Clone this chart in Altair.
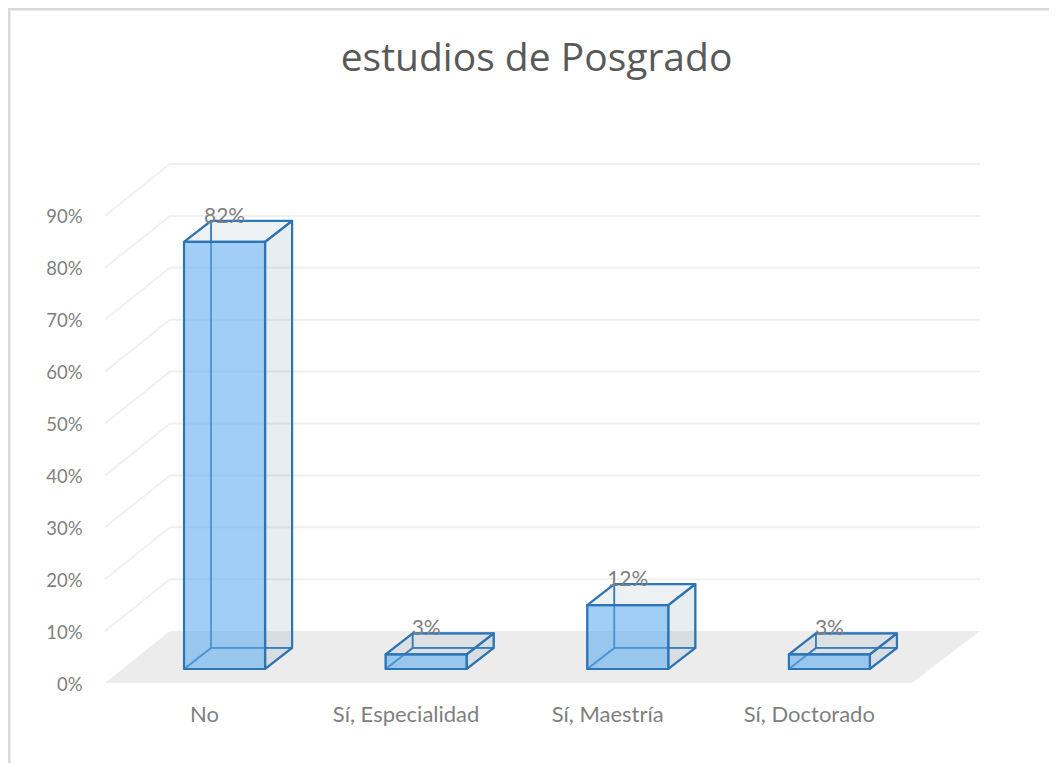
import altair as alt
import pandas as pd

categories = ["No", "Sí, Especialidad", "Sí, Maestría", "Sí, Doctorado"]
values = [0.823, 0.028, 0.123, 0.028]
tick_values = [0.0, 0.1, 0.2, 0.3, 0.4, 0.5, 0.6, 0.7, 0.8, 0.9]
grid_values = [0.1, 0.2, 0.3, 0.4, 0.5, 0.6, 0.7, 0.8, 0.9]
title_text = "estudios de Posgrado"

# scale domains (x in category slots, y as a share)
X_MAX = 4.34
Y_MAX = 1.0
WALL_DX, WALL_DY = 0.322, 0.10      # depth of the floor
FLOOR_W = 4.003
BAR_X0, BAR_W = 0.392, 0.402
BAR_DX, BAR_DY = 0.134, 0.0405      # depth of a box
BAR_BASE = 0.027
LABEL_X0 = 0.491

FONT = "Lato"
GREY = "#7f7f7f"
BLUE = "#2e75b6"

x_scale = alt.Scale(domain=[0, X_MAX], nice=False, zero=False)
y_scale = alt.Scale(domain=[0, Y_MAX], nice=False, zero=False)

label_positions = [LABEL_X0 + i for i in range(len(categories))]
label_expr = "[" + ",".join(f"'{c}'" for c in categories) + "][floor(datum.value)]"
x_axis = alt.Axis(values=label_positions, labelExpr=label_expr, grid=False, domain=False, ticks=False,
                  labelFont=FONT, labelFontSize=22, labelColor=GREY, labelPadding=21, labelAngle=0,
                  labelFlush=False, labelOverlap=False, title=None)
y_axis = alt.Axis(values=tick_values, format=".0%", grid=False, domain=False, ticks=False,
                  labelFont=FONT, labelFontSize=18.5, labelColor=GREY, labelPadding=23, labelOffset=1,
                  labelOverlap=False, title=None)


def X(field="x"):
    return alt.X(f"{field}:Q", scale=x_scale, axis=x_axis)


def Y(field="y"):
    return alt.Y(f"{field}:Q", scale=y_scale, axis=y_axis)


# ---- tables built from the arrays
grid_rows = []
for v in grid_values:
    grid_rows += [
        {"v": v, "o": 0, "x": 0, "y": v},
        {"v": v, "o": 1, "x": WALL_DX, "y": v + WALL_DY},
        {"v": v, "o": 2, "x": X_MAX, "y": v + WALL_DY},
    ]
grid = pd.DataFrame(grid_rows)

floor = pd.DataFrame({
    "y": [0, WALL_DY],
    "x": [0, WALL_DX],
    "x2": [FLOOR_W, X_MAX],
})

vert_back, vert_front, horiz_back, horiz_front, rect_back, rect_front = [], [], [], [], [], []
labels = []
for i, (c, v) in enumerate(zip(categories, values)):
    x0 = BAR_X0 + i
    x1 = x0 + BAR_W
    b = BAR_BASE
    t = BAR_BASE + v
    rect_front.append({"c": c, "x": x0, "x2": x1, "y": b, "y2": t})
    rect_back.append({"c": c, "x": x0 + BAR_DX, "x2": x1 + BAR_DX, "y": b + BAR_DY, "y2": t + BAR_DY})
    # left (hidden) and right faces
    vert_back += [
        {"c": c, "x": x0, "y": b, "y2": t},
        {"c": c, "x": x0 + BAR_DX, "y": b + BAR_DY, "y2": t + BAR_DY},
    ]
    vert_front += [
        {"c": c, "x": x1, "y": b, "y2": t},
        {"c": c, "x": x1 + BAR_DX, "y": b + BAR_DY, "y2": t + BAR_DY},
    ]
    # bottom (hidden) and top faces
    horiz_back += [
        {"c": c, "y": b, "x": x0, "x2": x1},
        {"c": c, "y": b + BAR_DY, "x": x0 + BAR_DX, "x2": x1 + BAR_DX},
    ]
    horiz_front += [
        {"c": c, "y": t, "x": x0, "x2": x1},
        {"c": c, "y": t + BAR_DY, "x": x0 + BAR_DX, "x2": x1 + BAR_DX},
    ]
    labels.append({"c": c, "x": x0 + BAR_W / 2, "y": t + BAR_DY, "value": v})

frame_color = "#d9d9d9"
frame_top = alt.Chart(pd.DataFrame({"a": [0]})).mark_rule(color=frame_color, strokeWidth=3).encode(
    x=alt.value(-97), x2=alt.value(960), y=alt.value(-155))
frame_left = alt.Chart(pd.DataFrame({"a": [0]})).mark_rule(color=frame_color, strokeWidth=3).encode(
    x=alt.value(-96), y=alt.value(-156), y2=alt.value(610))

gridlines = alt.Chart(grid).mark_line(color="#f0f0f0", strokeWidth=2).encode(
    x=X(), y=Y(), detail="v:N", order="o:Q")
floor_area = alt.Chart(floor).mark_area(orient="horizontal", color="#ececec").encode(
    x=X(), x2="x2:Q", y=Y())

side_fill = "#4d7296"
face_kw = dict(fill=side_fill, fillOpacity=0.10, stroke=BLUE, strokeOpacity=0.75, strokeWidth=1.7,
               strokeJoin="round")

back_rect = alt.Chart(pd.DataFrame(rect_back)).mark_rect(**face_kw).encode(
    x=X(), x2="x2:Q", y=Y(), y2="y2:Q")
left_face = alt.Chart(pd.DataFrame(vert_back)).mark_area(orient="vertical", **face_kw).encode(
    x=X(), y=Y(), y2="y2:Q", detail="c:N")
bottom_face = alt.Chart(pd.DataFrame(horiz_back)).mark_area(orient="horizontal", **face_kw).encode(
    x=X(), x2="x2:Q", y=Y(), detail="c:N")

front_kw = dict(stroke=BLUE, strokeWidth=2.2, strokeJoin="round")
right_face = alt.Chart(pd.DataFrame(vert_front)).mark_area(
    orient="vertical", fill=side_fill, fillOpacity=0.03, **front_kw).encode(
    x=X(), y=Y(), y2="y2:Q", detail="c:N")
top_face = alt.Chart(pd.DataFrame(horiz_front)).mark_area(
    orient="horizontal", fill=side_fill, fillOpacity=0.0, **front_kw).encode(
    x=X(), x2="x2:Q", y=Y(), detail="c:N")
front_rect = alt.Chart(pd.DataFrame(rect_front)).mark_rect(
    fill="#5aaef5", fillOpacity=0.52, **front_kw).encode(
    x=X(), x2="x2:Q", y=Y(), y2="y2:Q")

value_text = alt.Chart(pd.DataFrame(labels)).mark_text(
    font=FONT, fontSize=21, color=GREY, baseline="middle", align="center", dy=-4).encode(
    x=X(), y=Y(), text=alt.Text("value:Q", format=".0%"))

chart = alt.layer(
    frame_top, frame_left, gridlines, floor_area,
    back_rect, left_face, bottom_face, right_face, top_face, front_rect, value_text,
).properties(
    width=875,
    height=519,
    padding={"left": 97, "top": 156, "right": 69, "bottom": 80},
    autosize=alt.AutoSizeParams(type="none"),
    background="#ffffff",
    title=alt.TitleParams(
        title_text, font="Open Sans", fontSize=39, fontWeight=400, color="#595959",
        anchor="middle", dx=-6, offset=-111, baseline="bottom",
    ),
).configure_view(stroke=None)

chart.save("out.html", embed_options={"renderer": "svg", "actions": False})
